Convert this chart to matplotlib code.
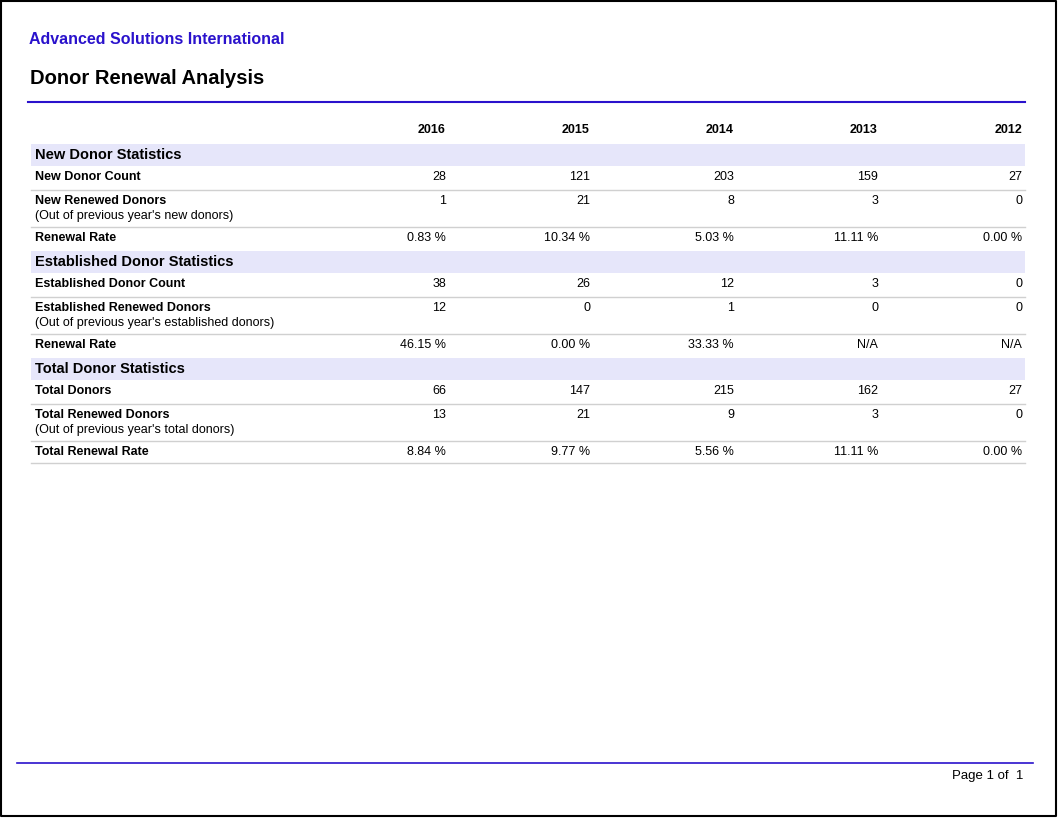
import matplotlib.pyplot as plt

plt.rcParams['font.family'] = ['Liberation Sans', 'DejaVu Sans']

years = ["2016", "2015", "2014", "2013", "2012"]
sections = ["New Donor Statistics", "Established Donor Statistics", "Total Donor Statistics"]
row_labels = [
    ["New Donor Count", "New Renewed Donors", "Renewal Rate"],
    ["Established Donor Count", "Established Renewed Donors", "Renewal Rate"],
    ["Total Donors", "Total Renewed Donors", "Total Renewal Rate"],
]
sub_labels = [
    "(Out of previous year's new donors)",
    "(Out of previous year's established donors)",
    "(Out of previous year's total donors)",
]
values = [
    [["28", "121", "203", "159", "27"],
     ["1", "21", "8", "3", "0"],
     ["0.83 %", "10.34 %", "5.03 %", "11.11 %", "0.00 %"]],
    [["38", "26", "12", "3", "0"],
     ["12", "0", "1", "0", "0"],
     ["46.15 %", "0.00 %", "33.33 %", "N/A", "N/A"]],
    [["66", "147", "215", "162", "27"],
     ["13", "21", "9", "3", "0"],
     ["8.84 %", "9.77 %", "5.56 %", "11.11 %", "0.00 %"]],
]

blue = "#2a12cc"
band = "#e6e6fa"
sep = "#d0d0d0"
col_x = [446, 590, 734, 878, 1022]
left, right = 31, 1025

fig = plt.figure(figsize=(10.58, 8.18), dpi=100)
ax = fig.add_axes([0, 0, 1, 1])
ax.set_xlim(0, 1058)
ax.set_ylim(818, 0)
ax.axis("off")

# page frame
ax.plot([1, 1056, 1056, 1, 1], [1, 1, 816, 816, 1], color="black", lw=1.5)

ax.text(29, 40, "Advanced Solutions International", color=blue, fontsize=11.5,
        fontweight="bold", va="center")
ax.text(30, 78, "Donor Renewal Analysis", color="black", fontsize=14.5,
        fontweight="bold", va="center")
ax.plot([28, 1025], [102, 102], color=blue, lw=1.5)

for x, yr in zip(col_x, years):
    ax.text(x, 130, yr, fontsize=9, fontweight="bold", ha="right", va="center")

heights = [24, 37, 24]
y = 144
for s, sec in enumerate(sections):
    ax.fill_between([left, right], y, y + 22, color=band, lw=0)
    ax.text(35, y + 11, sec, fontsize=10.5, fontweight="bold", va="center")
    y += 22
    for r, lab in enumerate(row_labels[s]):
        h = heights[r]
        if s == 2 and r == 2:
            h = 22
        ty = y + 11
        ax.text(35, ty, lab, fontsize=9, fontweight="bold", va="center")
        if r == 1:
            ax.text(35, ty + 15, sub_labels[s], fontsize=9, va="center")
        for x, v in zip(col_x, values[s][r]):
            ax.text(x, ty, v, fontsize=9, ha="right", va="center")
        y += h
        if r < 2 or s == 2:
            ax.plot([left, right], [y, y], color=sep, lw=1)

ax.plot([17, 1033], [763, 763], color=blue, lw=1.2)
ax.text(1023, 776, "Page 1 of  1", fontsize=9.5, ha="right", va="center")

fig.savefig("out.png", dpi=100)
